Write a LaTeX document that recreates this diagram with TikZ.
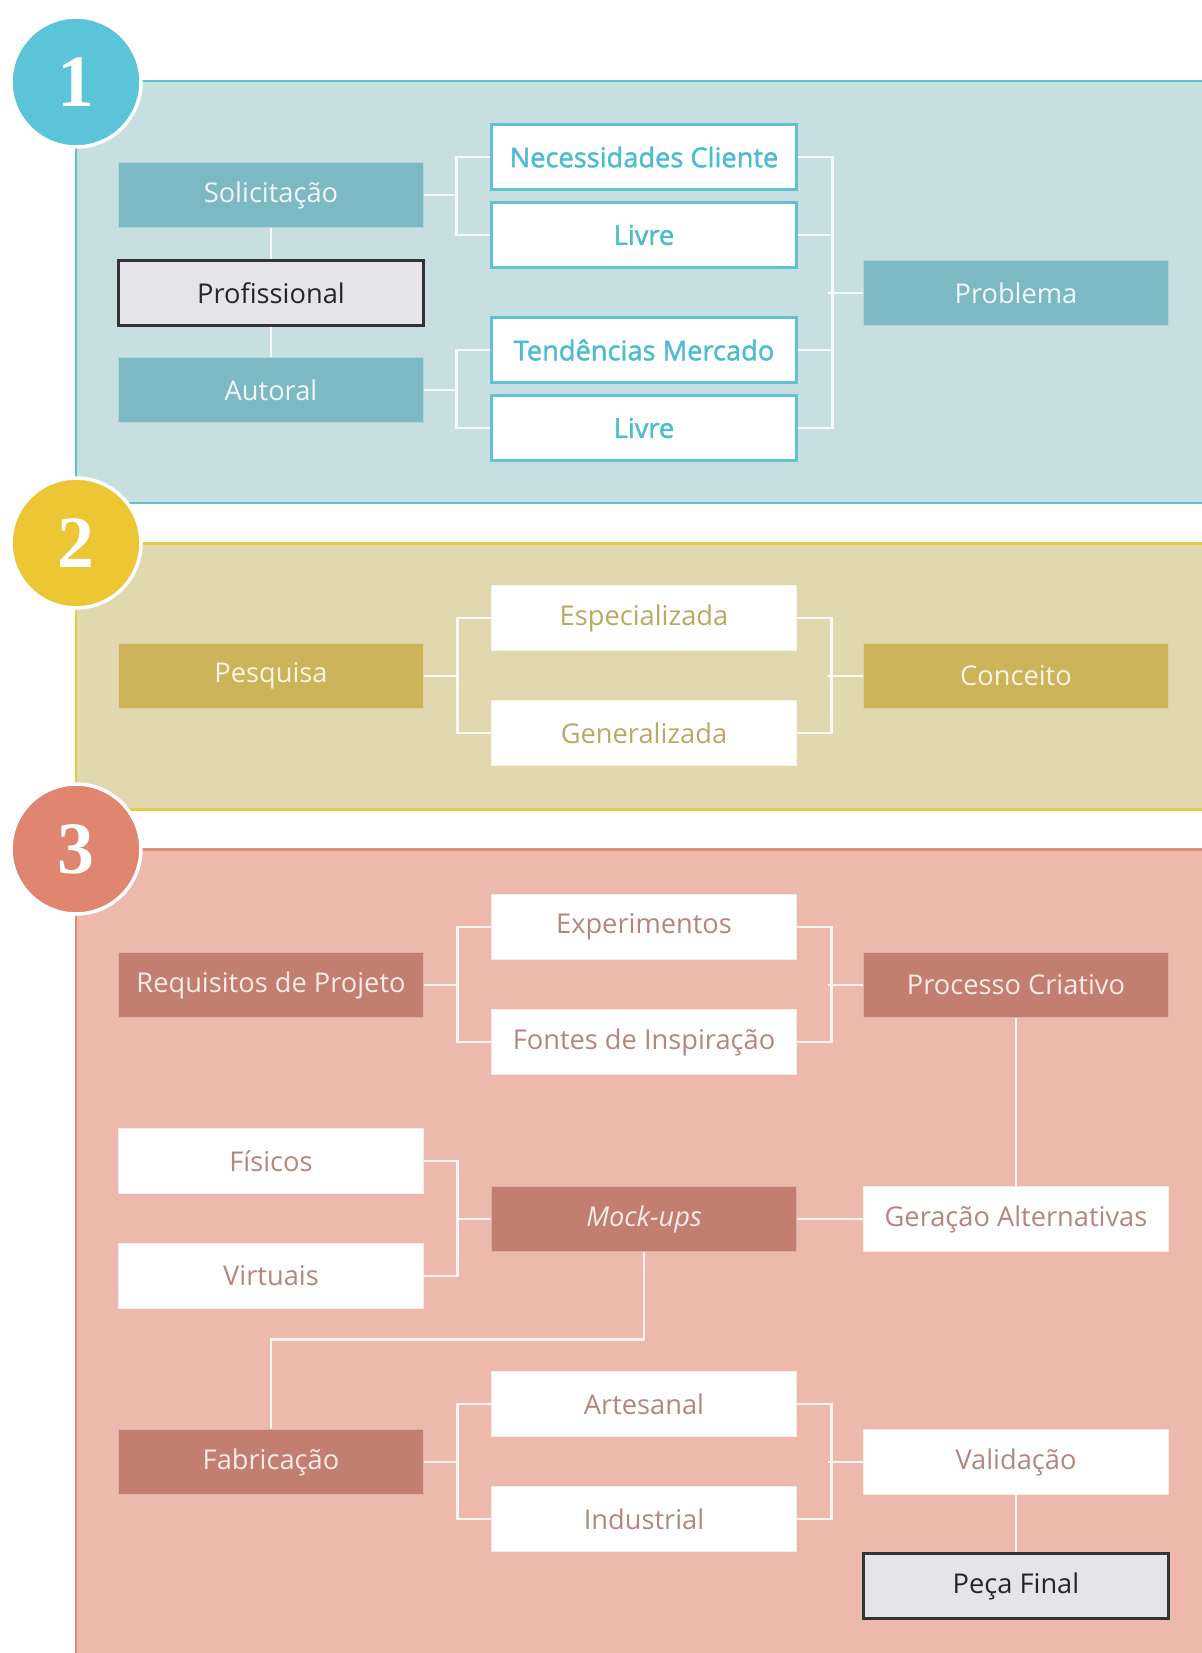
\documentclass[tikz,border=0pt]{standalone}
\usepackage{fontspec}
\setmainfont{Open Sans}
\newfontfamily\digitfont{Liberation Serif}
\newfontfamily\heavyfont[FakeBold=1.6]{Open Sans}

% panel colours
\definecolor{tealpanel}{HTML}{C8DFE2}
\definecolor{tealline}{HTML}{5FC1D2}
\definecolor{tealdark}{HTML}{7DB9C3}
\definecolor{tealtext}{HTML}{4DBCD0}
\definecolor{tealbadge}{HTML}{5BC4D8}
\definecolor{goldpanel}{HTML}{E1D8AF}
\definecolor{goldline}{HTML}{E9CB3F}
\definecolor{golddark}{HTML}{CDB35A}
\definecolor{goldtext}{HTML}{BBA865}
\definecolor{goldbadge}{HTML}{EDC634}
\definecolor{rosepanel}{HTML}{EDB9AC}
\definecolor{roseline}{HTML}{DD8C78}
\definecolor{rosedark}{HTML}{C27F6F}
\definecolor{rosetext}{HTML}{B3877D}
\definecolor{rosebadge}{HTML}{E08670}
\definecolor{greybox}{HTML}{E5E5E9}

\begin{document}
\begin{tikzpicture}[x=0.02cm, y=-0.02cm,
    box/.style={rectangle, minimum width=6.1cm, minimum height=1.3cm, inner sep=0pt,
      font=\fontsize{15.5}{18}\selectfont, line width=0.8pt},
    tealfill/.style={box, fill=tealdark, draw=tealdark!60!white, text=white!88!tealdark},
    tealopen/.style={box, fill=white, draw=tealline, line width=1.3pt, text=tealtext, font=\fontsize{15.5}{18}\selectfont\heavyfont},
    goldfill/.style={box, fill=golddark, draw=golddark!60!white, text=white!85!golddark},
    goldopen/.style={box, fill=white, draw=white!70!goldpanel, text=goldtext},
    rosefill/.style={box, fill=rosedark, draw=rosedark!60!white, text=white!85!rosedark},
    roseopen/.style={box, fill=white, draw=white!70!rosepanel, text=rosetext},
    endbox/.style={box, fill=greybox, draw=black!80, line width=1.2pt, text=black!85},
    badge/.style={circle, minimum size=2.6cm, inner sep=0pt, draw=white, line width=2pt,
      text=white, font=\fontsize{42}{42}\selectfont\digitfont\bfseries},
    link/.style={line width=1.6pt, draw=white!85!#1},
  ]
  \useasboundingbox (0,0) rectangle (1202,1653);
  \clip (0,0) rectangle (1202,1653);
  \fill[white] (0,0) rectangle (1202,1653);

  % Panels
  \draw[fill=tealpanel, draw=tealline, line width=1.7pt] (76,81) rectangle (1240,503);
  \draw[fill=goldpanel, draw=goldline, line width=1.7pt] (76,543) rectangle (1240,809);
  \draw[fill=rosepanel, draw=roseline, line width=1.7pt] (76,849) rectangle (1240,1700);

  \node[badge, fill=tealbadge] (one) at (76,82) {1};
  \node[badge, fill=goldbadge] (two) at (76,543) {2};
  \node[badge, fill=rosebadge] (three) at (76,849) {3};

  % Stage 1
  \node[tealfill] (sol) at (271,195) {Solicitação};
  \node[endbox] (prof) at (271,293) {Profissional};
  \node[tealfill] (aut) at (271,390) {Autoral};
  \node[tealopen] (nec) at (644,157) {Necessidades Cliente};
  \node[tealopen] (livA) at (644,235) {Livre};
  \node[tealopen] (tend) at (644,350) {Tendências Mercado};
  \node[tealopen] (livB) at (644,428) {Livre};
  \node[tealfill] (prob) at (1016,293) {Problema};

  \draw[link=tealpanel] (sol) -- (prof) -- (aut);
  \draw[link=tealpanel] (nec.west) -- ++(-33.5,0) |- (livA.west);
  \draw[link=tealpanel] (sol.east) -- ++(33.5,0);
  \draw[link=tealpanel] (tend.west) -- ++(-33.5,0) |- (livB.west);
  \draw[link=tealpanel] (aut.east) -- ++(33.5,0);
  \draw[link=tealpanel] (nec.east) -- ++(34.5,0) |- (livB.east);
  \draw[link=tealpanel] (livA.east) -- ++(34.5,0);
  \draw[link=tealpanel] (tend.east) -- ++(34.5,0);
  \draw[link=tealpanel] (prob.west) -- ++(-34.5,0);

  % Stage 2
  \node[goldfill] (pesq) at (271,676) {Pesquisa};
  \node[goldopen] (esp) at (644,618) {Especializada};
  \node[goldopen] (gen) at (644,733) {Generalizada};
  \node[goldfill] (conc) at (1016,676) {Conceito};

  \draw[link=goldpanel] (esp.west) -- ++(-33.5,0) |- (gen.west);
  \draw[link=goldpanel] (pesq.east) -- ++(33.5,0);
  \draw[link=goldpanel] (esp.east) -- ++(34.5,0) |- (gen.east);
  \draw[link=goldpanel] (conc.west) -- ++(-34.5,0);

  % Stage 3
  \node[rosefill] (req) at (271,985) {Requisitos de Projeto};
  \node[roseopen] (exp) at (644,927) {Experimentos};
  \node[roseopen] (font) at (644,1042) {Fontes de Inspiração};
  \node[rosefill] (proc) at (1016,985) {Processo Criativo};
  \node[roseopen] (fis) at (271,1161) {Físicos};
  \node[roseopen] (virt) at (271,1276) {Virtuais};
  \node[rosefill, font=\fontsize{15.5}{18}\selectfont\itshape] (mock) at (644,1219) {Mock-ups};
  \node[roseopen] (ger) at (1016,1219) {Geração Alternativas};
  \node[rosefill] (fab) at (271,1462) {Fabricação};
  \node[roseopen] (art) at (644,1404) {Artesanal};
  \node[roseopen] (ind) at (644,1519) {Industrial};
  \node[roseopen] (val) at (1016,1462) {Validação};
  \node[endbox] (peca) at (1016,1586) {Peça Final};

  \draw[link=rosepanel] (exp.west) -- ++(-33.5,0) |- (font.west);
  \draw[link=rosepanel] (req.east) -- ++(33.5,0);
  \draw[link=rosepanel] (exp.east) -- ++(34.5,0) |- (font.east);
  \draw[link=rosepanel] (proc.west) -- ++(-34.5,0);
  \draw[link=rosepanel] (proc) -- (ger);
  \draw[link=rosepanel] (ger) -- (mock);
  \draw[link=rosepanel] (fis.east) -- ++(33.5,0) |- (virt.east);
  \draw[link=rosepanel] (mock.west) -- ++(-33.5,0);
  \draw[link=rosepanel] (mock.south) -- ++(0,87) -| (fab.north);
  \draw[link=rosepanel] (art.west) -- ++(-33.5,0) |- (ind.west);
  \draw[link=rosepanel] (fab.east) -- ++(33.5,0);
  \draw[link=rosepanel] (art.east) -- ++(34.5,0) |- (ind.east);
  \draw[link=rosepanel] (val.west) -- ++(-34.5,0);
  \draw[link=rosepanel] (val) -- (peca);
\end{tikzpicture}
\end{document}
